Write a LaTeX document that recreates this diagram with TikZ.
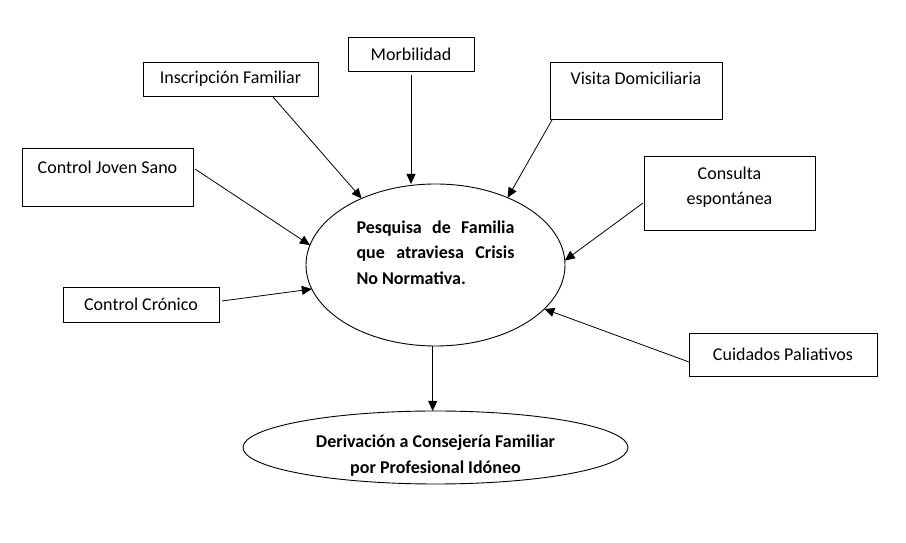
\documentclass[tikz,border=0pt]{standalone}
\usepackage{fontspec}
\setmainfont{Carlito}
\usetikzlibrary{arrows.meta,calc,shapes.geometric}
\begin{document}
\begin{tikzpicture}[x=1pt,y=1pt,
  box/.style={draw,line width=0.9pt,inner sep=0pt,outer sep=0pt,font=\fontsize{18}{25}\selectfont,align=center},
  oval/.style={draw,ellipse,line width=0.9pt,inner sep=0pt,outer sep=0pt},
  arr/.style={line width=0.8pt,-{Triangle[length=10pt,width=9pt]}},
  lbl/.style={font=\fontsize{18}{25}\selectfont,align=center,inner sep=0pt},
  blbl/.style={font=\bfseries\fontsize{18}{25.5}\selectfont,align=center,inner sep=0pt}]
\useasboundingbox (0,0) rectangle (906,543);
% source boxes
\node[box,minimum width=175pt,minimum height=34pt] (ins) at (230.5,464) {Inscripción Familiar};
\node[box,minimum width=126pt,minimum height=34pt] (morb) at (411,489) {Morbilidad};
\node[box,minimum width=171pt,minimum height=58pt,label={[lbl,yshift=10pt]center:Control Joven Sano}] (cjs) at (107.5,366) {};
\node[box,minimum width=156pt,minimum height=35pt] (cc) at (141,238.5) {Control Crónico};
\node[box,minimum width=172pt,minimum height=57pt,label={[lbl,yshift=12.5pt]center:Visita Domiciliaria}] (vis) at (636,452.5) {};
\node[box,minimum width=171pt,minimum height=74pt,label={[lbl,yshift=5.5pt]center:Consulta\\espontánea}] (cons) at (729.5,350) {};
\node[box,minimum width=188pt,minimum height=43pt] (cuid) at (783,188.5) {Cuidados Paliativos};
% central ellipse
\node[oval,minimum width=259pt,minimum height=162pt,
  label={[blbl,yshift=12.5pt]center:\parbox{158pt}{Pesquisa de Familia\linebreak que atraviesa Crisis\linebreak No Normativa.}}] (main) at (435.5,278) {};
% result ellipse
\node[oval,minimum width=385pt,minimum height=73pt,
  label={[blbl,yshift=-8pt]center:Derivación a Consejería Familiar\\por Profesional Idóneo}] (der) at (435.5,95.5) {};
% connectors
\draw[arr] ($(ins.south)+(42.5,-1)$) -- (main.138.7);
\draw[arr] ($(morb.south)+(0,-4)$) -- (morb.south |- main.north);
\draw[arr] ($(cjs.east)+(2,8)$) -- (main.171.7);
\draw[arr] ($(cc.east)+(3,3.5)$) -- (main.191.3);
\draw[arr] ($(vis.south west)+(2,-1)$) -- (main.43.6);
\draw[arr] ($(cons.west)+(-1,-10)$) -- (main.2.1);
\draw[arr] ($(cuid.west)+(0,-7.5)$) -- (main.338.9);
\draw[arr] (main.268) -- (main.268 |- der.north);
\end{tikzpicture}
\end{document}
